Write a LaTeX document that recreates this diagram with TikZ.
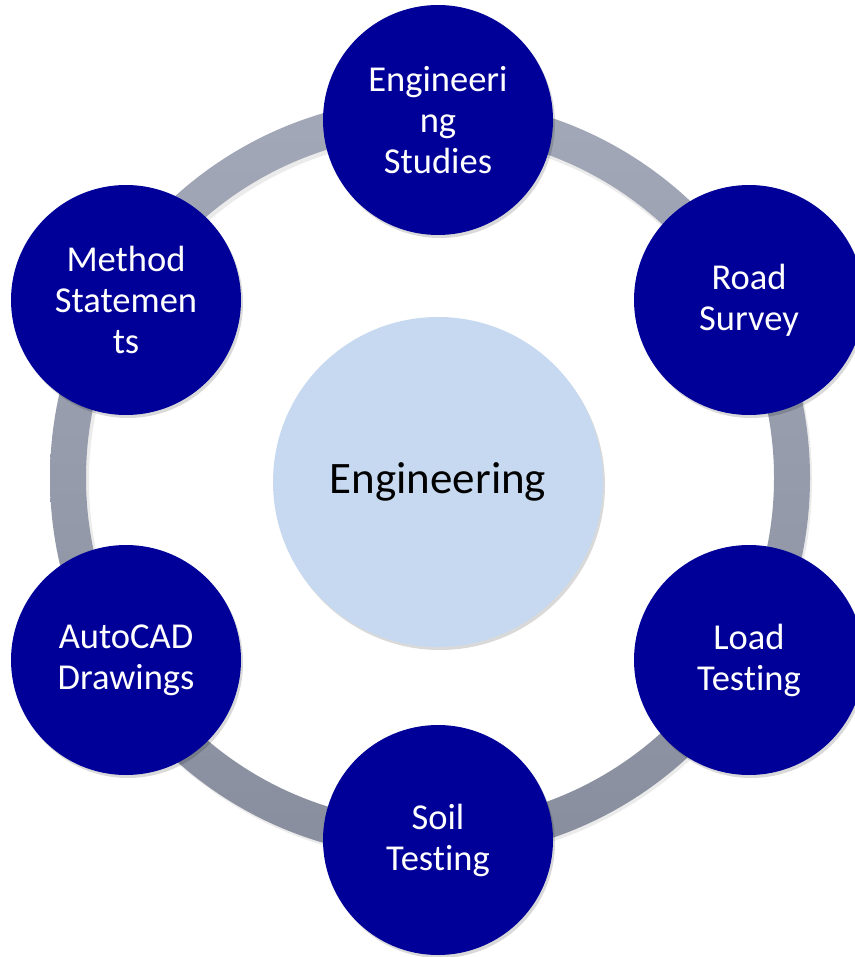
\documentclass[tikz,border=0pt]{standalone}
\usepackage{fontspec}
\setmainfont{Carlito}[Ligatures={NoCommon,NoRare,NoContextual}]
\usetikzlibrary{shadows}
\definecolor{outerblue}{RGB}{0,0,153}
\definecolor{centerblue}{RGB}{198,217,240}
\definecolor{ringtop}{RGB}{162,168,184}
\definecolor{ringbot}{RGB}{136,142,158}
\tikzset{
  outer/.style={circle, fill=outerblue, minimum size=230pt, inner sep=0pt,
    text=white, align=center, font=\fontsize{36.5}{41}\selectfont,
    drop shadow={shadow xshift=2pt, shadow yshift=-3pt, opacity=0.15, fill=black}},
  hub/.style={circle, fill=centerblue, minimum size=330pt, inner sep=0pt,
    text=black, align=center, font=\fontsize{45}{50}\selectfont,
    drop shadow={shadow xshift=2pt, shadow yshift=-3pt, opacity=0.15, fill=black}}
}
\begin{document}
\begin{tikzpicture}[x=1pt, y=-1pt]
\useasboundingbox (0,0) rectangle (854,957);
\fill[white] (0,0) rectangle (854,957);
% ring
\fill[black, opacity=0.08, even odd rule] (432,481) circle (380pt) (432,481) circle (343pt);
\shade[top color=ringtop, bottom color=ringbot, even odd rule]
  (430,478) circle (380pt) (430,478) circle (344pt);
% center
\node[hub] (c) at (438,482) {Engineering};
% outer nodes
\node[outer] (n1) at (438,120) {Engineeri\\ng\\Studies};
\node[outer] (n2) at (749,300) {Road\\Survey};
\node[outer] (n3) at (749,660) {Load\\Test\kern0pt ing};
\node[outer] (n4) at (438,840) {Soil\\Test\kern0pt ing};
\node[outer] (n5) at (126,660) {AutoCAD\\Drawings};
\node[outer] (n6) at (126,300) {Method\\Statemen\\ts};
\end{tikzpicture}
\end{document}
